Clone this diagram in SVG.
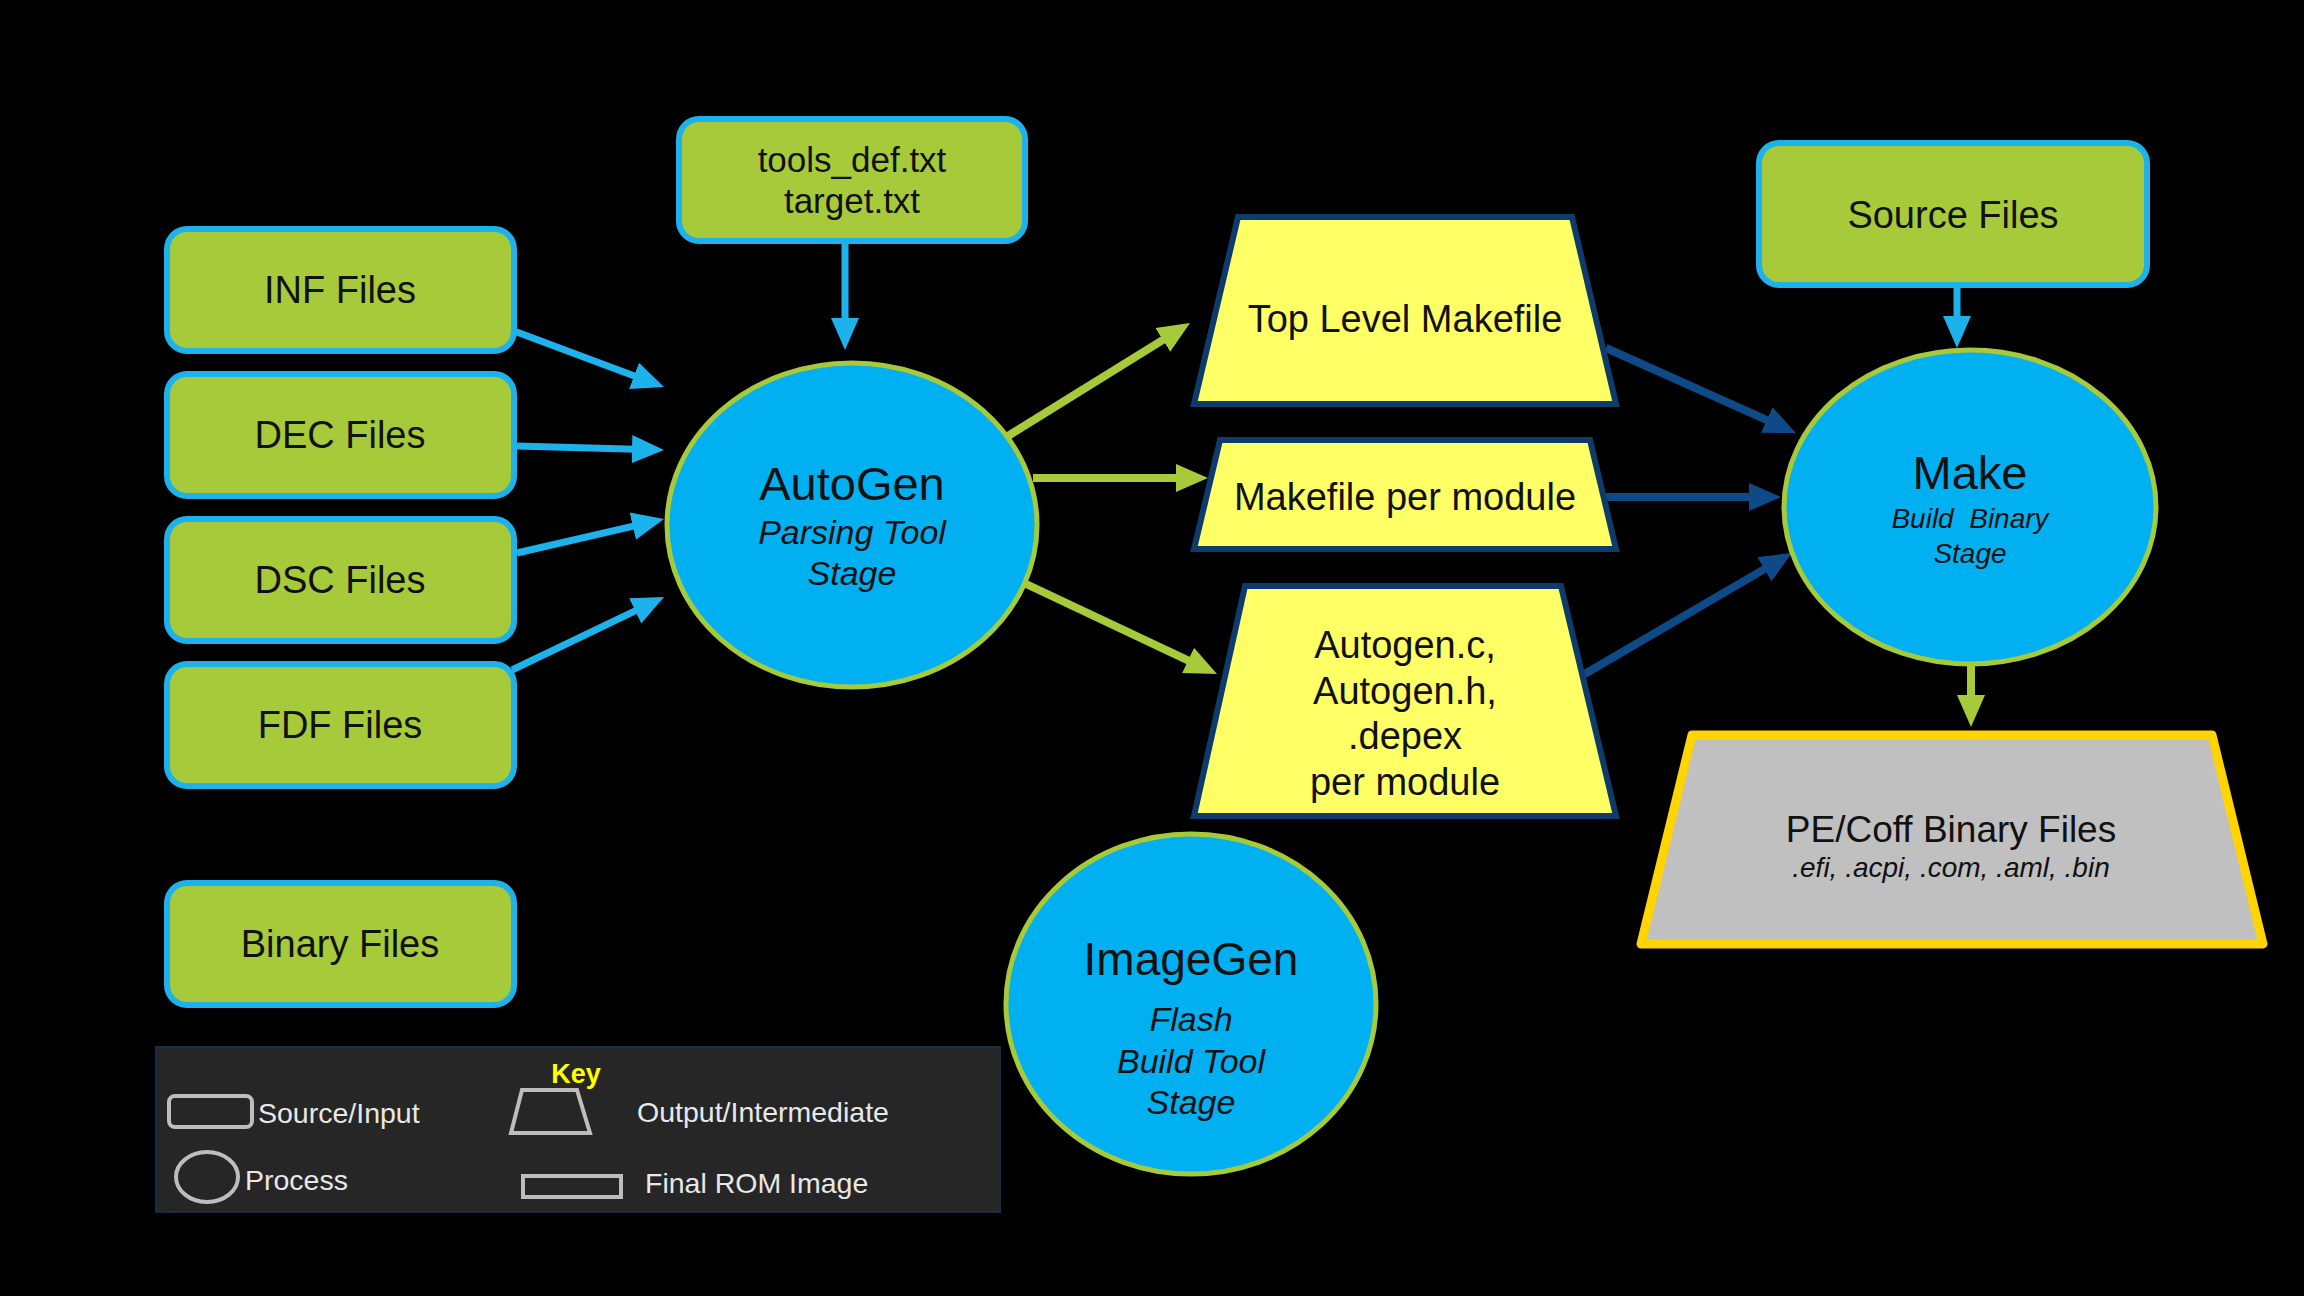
<svg xmlns="http://www.w3.org/2000/svg" width="2304" height="1296" viewBox="0 0 2304 1296">
<style>
.src{fill:#a6ca3a;stroke:#1db2ec;stroke-width:6}
.proc{fill:#00b0f0;stroke:#a6ca3a;stroke-width:5}
.mid{fill:#ffff66;stroke:#0d3b6b;stroke-width:6}
.t{font-family:"Liberation Sans",Arial,sans-serif;fill:#111;text-anchor:middle}
.i{font-style:italic}
.cb{stroke:#1db2ec;stroke-width:7;fill:none}
.cg{stroke:#a6ca3a;stroke-width:8;fill:none}
.cd{stroke:#0e4a88;stroke-width:8;fill:none}
.k{font-family:"Liberation Sans",Arial,sans-serif;fill:#e8e8e8;font-size:28.5px}
.ki{fill:none;stroke:#bdbdbd;stroke-width:4}
</style>
<defs>
<marker id="ab" markerUnits="userSpaceOnUse" markerWidth="32" markerHeight="32" viewBox="0 0 32 32" refX="4" refY="16" orient="auto"><path d="M0,2 L32,16 L0,30 z" fill="#1db2ec"/></marker>
<marker id="ag" markerUnits="userSpaceOnUse" markerWidth="32" markerHeight="32" viewBox="0 0 32 32" refX="4" refY="16" orient="auto"><path d="M0,2 L32,16 L0,30 z" fill="#a6ca3a"/></marker>
<marker id="ad" markerUnits="userSpaceOnUse" markerWidth="32" markerHeight="32" viewBox="0 0 32 32" refX="4" refY="16" orient="auto"><path d="M0,2 L32,16 L0,30 z" fill="#0e4a88"/></marker>
</defs>
<rect width="2304" height="1296" fill="#000"/>

<g id="connectors">
<line class="cb" x1="514" y1="331" x2="637.8" y2="377.2" marker-end="url(#ab)"/>
<line class="cb" x1="517" y1="446" x2="636" y2="449.2" marker-end="url(#ab)"/>
<line class="cb" x1="517" y1="553" x2="636.7" y2="525.3" marker-end="url(#ab)"/>
<line class="cb" x1="512" y1="670" x2="638.8" y2="609.1" marker-end="url(#ab)"/>
<line class="cb" x1="845" y1="241" x2="845" y2="322" marker-end="url(#ab)"/>
<line class="cg" x1="1008" y1="436" x2="1166.2" y2="337.8" marker-end="url(#ag)"/>
<line class="cg" x1="1033" y1="478" x2="1180" y2="478" marker-end="url(#ag)"/>
<line class="cg" x1="1024" y1="583" x2="1191.7" y2="662.1" marker-end="url(#ag)"/>
<line class="cd" x1="1606" y1="348" x2="1770.4" y2="421.6" marker-end="url(#ad)"/>
<line class="cd" x1="1605" y1="497" x2="1753" y2="497" marker-end="url(#ad)"/>
<line class="cd" x1="1583" y1="675" x2="1767.8" y2="567.1" marker-end="url(#ad)"/>
<line class="cb" x1="1957" y1="286" x2="1957" y2="320" marker-end="url(#ab)"/>
<line class="cg" x1="1971" y1="665" x2="1971" y2="699" marker-end="url(#ag)"/>
</g>

<g id="inf"><rect class="src" x="167" y="229" width="347" height="122" rx="20"/><text class="t" x="340" y="303" font-size="38">INF Files</text></g>
<g id="dec"><rect class="src" x="167" y="374" width="347" height="122" rx="20"/><text class="t" x="340" y="448" font-size="38">DEC Files</text></g>
<g id="dsc"><rect class="src" x="167" y="519" width="347" height="122" rx="20"/><text class="t" x="340" y="593" font-size="38">DSC Files</text></g>
<g id="fdf"><rect class="src" x="167" y="664" width="347" height="122" rx="20"/><text class="t" x="340" y="738" font-size="38">FDF Files</text></g>
<g id="binary"><rect class="src" x="167" y="883" width="347" height="122" rx="20"/><text class="t" x="340" y="957" font-size="38">Binary Files</text></g>

<g id="toolsdef"><rect class="src" x="679" y="119" width="346" height="122" rx="20"/>
<text class="t" x="852" y="172" font-size="35">tools_def.txt</text>
<text class="t" x="852" y="213" font-size="35">target.txt</text></g>

<g id="autogen"><ellipse class="proc" cx="852" cy="525" rx="185" ry="162"/>
<text class="t" x="852" y="500" font-size="47">AutoGen</text>
<text class="t i" x="852" y="544" font-size="34">Parsing Tool</text>
<text class="t i" x="852" y="585" font-size="34">Stage</text></g>

<g id="toplevel"><polygon class="mid" points="1238,217 1572,217 1616,404 1194,404"/>
<text class="t" x="1405" y="332" font-size="38">Top Level Makefile</text></g>

<g id="permodule"><polygon class="mid" points="1220,440 1590,440 1616,549 1194,549"/>
<text class="t" x="1405" y="510" font-size="38">Makefile per module</text></g>

<g id="autogenfiles"><polygon class="mid" points="1245,586 1561,586 1616,816 1194,816"/>
<text class="t" x="1405" y="658" font-size="38">Autogen.c,</text>
<text class="t" x="1405" y="704" font-size="38">Autogen.h,</text>
<text class="t" x="1405" y="749" font-size="38">.depex</text>
<text class="t" x="1405" y="795" font-size="38">per module</text></g>

<g id="source"><rect class="src" x="1759" y="143" width="388" height="142" rx="20"/>
<text class="t" x="1953" y="228" font-size="38">Source Files</text></g>

<g id="make"><ellipse class="proc" cx="1970" cy="507" rx="186" ry="157"/>
<text class="t" x="1970" y="489" font-size="47">Make</text>
<text class="t i" x="1970" y="528" font-size="28" xml:space="preserve">Build  Binary</text>
<text class="t i" x="1970" y="563" font-size="28">Stage</text></g>

<g id="pecoff"><polygon points="1692,735 2212,735 2263,944 1641,944" fill="#c0c0c0" stroke="#ffd400" stroke-width="9" stroke-linejoin="round"/>
<text class="t" x="1951" y="842" font-size="37">PE/Coff Binary Files</text>
<text class="t i" x="1951" y="877" font-size="28">.efi, .acpi, .com, .aml, .bin</text></g>

<g id="imagegen"><ellipse class="proc" cx="1191" cy="1004" rx="185" ry="170"/>
<text class="t" x="1191" y="975" font-size="46">ImageGen</text>
<text class="t i" x="1191" y="1031" font-size="34">Flash</text>
<text class="t i" x="1191" y="1073" font-size="34">Build Tool</text>
<text class="t i" x="1191" y="1114" font-size="34">Stage</text></g>

<g id="legend">
<rect x="156" y="1047" width="844" height="165" fill="#262626" stroke="#1b2d45" stroke-width="2"/>
<text x="576" y="1083" font-family="Liberation Sans,Arial,sans-serif" font-weight="bold" font-size="27" fill="#ffff00" text-anchor="middle">Key</text>
<rect class="ki" x="169" y="1096" width="83" height="31" rx="6"/>
<text class="k" x="258" y="1123">Source/Input</text>
<polygon class="ki" points="522,1090 577,1090 590,1133 511,1133"/>
<text class="k" x="637" y="1122">Output/Intermediate</text>
<ellipse class="ki" cx="207" cy="1177" rx="31" ry="25"/>
<text class="k" x="245" y="1190">Process</text>
<rect class="ki" x="523" y="1176" width="98" height="21"/>
<text class="k" x="645" y="1193">Final ROM Image</text>
</g>
</svg>
